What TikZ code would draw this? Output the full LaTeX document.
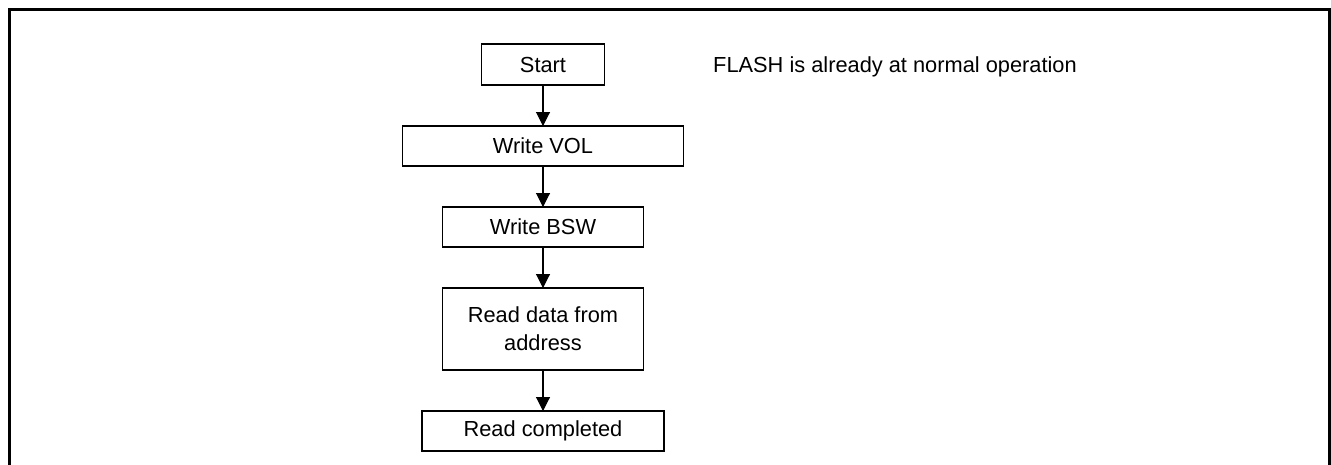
\documentclass[tikz,border=0pt]{standalone}
\usepackage{fontspec}
\setmainfont{Liberation Sans}
\usetikzlibrary{arrows.meta}
\begin{document}
\begin{tikzpicture}[x=1pt,y=-1pt,
  flowbox/.style={draw=black,line width=1.1pt,inner sep=0pt,outer sep=0pt,
    align=center,font=\fontsize{21.8}{28}\selectfont},
  flowarrow/.style={line width=1.1pt,-{Triangle[width=14pt,length=14pt]}},
  note/.style={inner sep=0pt,font=\fontsize{21.8}{28}\selectfont}]
\useasboundingbox (0,0) rectangle (1331,464);
\begin{scope}
\clip (0,0) rectangle (1331,464);
% outer frame (open at the bottom edge)
\draw[line width=3pt] (9,9) rectangle (1329.5,480);
\end{scope}

\node[flowbox,minimum width=123pt,minimum height=41pt] (start) at (543,64.5) {Start};
\node[flowbox,minimum width=281pt,minimum height=40pt] (vol) at (543,146) {Write VOL};
\node[flowbox,minimum width=201pt,minimum height=40pt] (bsw) at (543,227) {Write BSW};
\node[flowbox,minimum width=201pt,minimum height=82pt] (rd) at (543,329) {Read data from\\address};
\node[flowbox,minimum width=242pt,minimum height=40pt] (done) at (543,431) {Read completed};

\draw[flowarrow] (start) -- (vol);
\draw[flowarrow] (vol) -- (bsw);
\draw[flowarrow] (bsw) -- (rd);
\draw[flowarrow] (rd) -- (done);

\node[note,anchor=base west] (flash) at (713,72.7) {FLASH is already at normal operation};
\end{tikzpicture}
\end{document}
